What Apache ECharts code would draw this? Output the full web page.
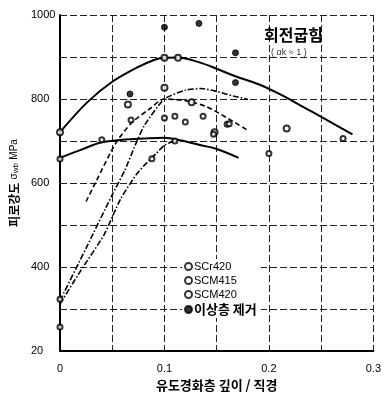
<!DOCTYPE html>
<html>
<head>
<meta charset="utf-8">
<style>
  html, body { margin: 0; padding: 0; background: #fff; }
  #chart { width: 384px; height: 397px; }
</style>
<script src="https://cdn.jsdelivr.net/npm/echarts@6/dist/echarts.min.js"></script>
</head>
<body>
<div id="chart"></div>
<script>
// 축 눈금
const xTicks = [0, 0.1, 0.2, 0.3];
const yTicks = [200, 400, 600, 800, 1000];
const yTickLabels = ["20", "400", "600", "800", "1000"];

// 곡선 (유도경화층 깊이/직경, 피로강도)
const upperSolid = [[0, 721], [0.026, 792], [0.05, 841], [0.073, 874], [0.09, 893], [0.1, 898], [0.113, 899],
  [0.135, 886], [0.15, 872], [0.166, 856], [0.19, 835], [0.21, 812], [0.23, 785], [0.254, 752], [0.28, 716]];
const lowerSolid = [[0, 660], [0.02, 679], [0.04, 697], [0.06, 703], [0.08, 706], [0.1, 708], [0.115, 702],
  [0.135, 690], [0.15, 681], [0.171, 660]];
const dashDotA = [[0, 320], [0.025, 445], [0.05, 572], [0.062, 630], [0.072, 690], [0.081, 738], [0.1, 800],
  [0.12, 821], [0.135, 825], [0.15, 818], [0.166, 807], [0.18, 799]];
const dashedB = [[0.025, 556], [0.035, 606], [0.053, 693], [0.068, 742], [0.085, 775], [0.1, 800],
  [0.12, 796], [0.14, 782], [0.16, 755], [0.18, 725]];
const dashDotC = [[0, 312], [0.02, 392], [0.042, 476], [0.058, 562], [0.073, 620], [0.083, 648],
  [0.092, 670], [0.1, 690], [0.112, 703]];

// 측정점
const scr420 = [[0, 721], [0.1, 898], [0.113, 898], [0.065, 787], [0.1, 827], [0.126, 792], [0.217, 730], [0.148, 721]];
const scm415 = [[0, 657], [0.04, 703], [0.088, 658], [0.11, 700], [0.2, 670], [0.271, 706], [0.1, 755], [0.11, 759], [0.12, 745]];
const scm420 = [[0, 323], [0, 257], [0.068, 750], [0.137, 759], [0.16, 740], [0.162, 741], [0.147, 716]];
const removed = [[0.1, 971], [0.133, 980], [0.168, 910], [0.168, 839], [0.067, 812]];

const chart = echarts.init(document.getElementById("chart"));

const gridLine = { show: true, lineStyle: { color: "#222", type: [7, 3], width: 1 } };
const font = "Liberation Sans";

const curve = (data, type, width, smooth) => ({
  type: "line",
  data: data,
  smooth: smooth,
  showSymbol: false,
  silent: true,
  lineStyle: { color: "#000", width: width, type: type },
  z: 3,
});

const points = (name, data, symbol, size) => ({
  name: name,
  type: "scatter",
  data: data,
  symbol: symbol,
  symbolSize: size,
  itemStyle: { color: "#000", borderColor: "#000", borderWidth: 1 },
  z: 4,
});

chart.setOption({
  backgroundColor: "#fff",
  animation: false,
  grid: { left: 55, right: 7, top: 15, bottom: 43 },
  xAxis: {
    type: "value",
    min: 0,
    max: 0.3,
    interval: 0.05,
    name: "유도경화층 깊이 / 직경",
    nameLocation: "middle",
    nameGap: 28,
    nameTextStyle: { color: "#000", fontSize: 13, fontWeight: "bold", fontFamily: "Noto Sans CJK KR" },
    axisLine: { show: true, lineStyle: { color: "#000", width: 2 } },
    axisTick: { show: false },
    axisLabel: {
      color: "#000",
      fontSize: 11,
      fontFamily: font,
      margin: 12,
      formatter: (v) => {
        const t = xTicks.find((k) => Math.abs(k - v) < 1e-6);
        return t === undefined ? "" : String(t);
      },
    },
    splitLine: gridLine,
  },
  yAxis: {
    type: "value",
    min: 200,
    max: 1000,
    interval: 100,
    name: "{b|피로강도} {s|σ}{u|wb} {s|MPa}",
    nameLocation: "middle",
    nameGap: 40,
    nameTextStyle: {
      color: "#000",
      rich: {
        b: { fontSize: 12, fontWeight: "bold", fontFamily: "Noto Sans CJK KR", color: "#000" },
        s: { fontSize: 10, fontFamily: font, color: "#000" },
        u: { fontSize: 8, fontFamily: font, color: "#000", verticalAlign: "bottom" },
      },
    },
    axisLine: { show: true, lineStyle: { color: "#000", width: 2 } },
    axisTick: { show: false },
    axisLabel: {
      color: "#000",
      fontSize: 11,
      fontFamily: font,
      align: "left",
      margin: 29,
      formatter: (v) => {
        const i = yTicks.indexOf(v);
        return i < 0 ? "" : yTickLabels[i];
      },
    },
    splitLine: gridLine,
  },
  legend: {
    left: 182,
    top: 259,
    orient: "vertical",
    itemWidth: 7,
    itemHeight: 7,
    itemGap: 3,
    padding: [2, 4, 2, 2],
    backgroundColor: "#fff",
    textStyle: { color: "#000", fontSize: 11, fontFamily: font, padding: [0, 0, 0, -3] },
    data: [
      { name: "SCr420", icon: "emptyCircle" },
      { name: "SCM415", icon: "emptyCircle" },
      { name: "SCM420", icon: "emptyCircle" },
      {
        name: "이상층 제거",
        icon: "circle",
        textStyle: { fontSize: 13, fontWeight: "bold", fontFamily: "Noto Sans CJK KR" },
      },
    ],
  },
  graphic: [
    {
      type: "text",
      left: 264,
      top: 27,
      z: 10,
      style: { text: "회전굽힘", fill: "#000", font: "bold 16px 'Noto Sans CJK KR'" },
    },
    {
      type: "text",
      left: 271,
      top: 48,
      z: 10,
      style: { text: "( αk ≈ 1 )", fill: "#333", font: "9px 'Liberation Sans'" },
    },
  ],
  series: [
    curve(upperSolid, "solid", 2, 0.35),
    curve(lowerSolid, "solid", 2, 0.35),
    curve(dashDotA, [6, 2, 1.5, 2], 1.6, 0.2),
    curve(dashedB, [5, 3], 1.6, 0.25),
    curve(dashDotC, [6, 2, 1.5, 2], 1.6, 0.2),
    points("SCr420", scr420, "emptyCircle", 6),
    points("SCM415", scm415, "emptyCircle", 5),
    points("SCM420", scm420, "emptyCircle", 5),
    points("이상층 제거", removed, "circle", 6),
  ],
});

window.addEventListener("resize", () => chart.resize());
</script>
</body>
</html>
